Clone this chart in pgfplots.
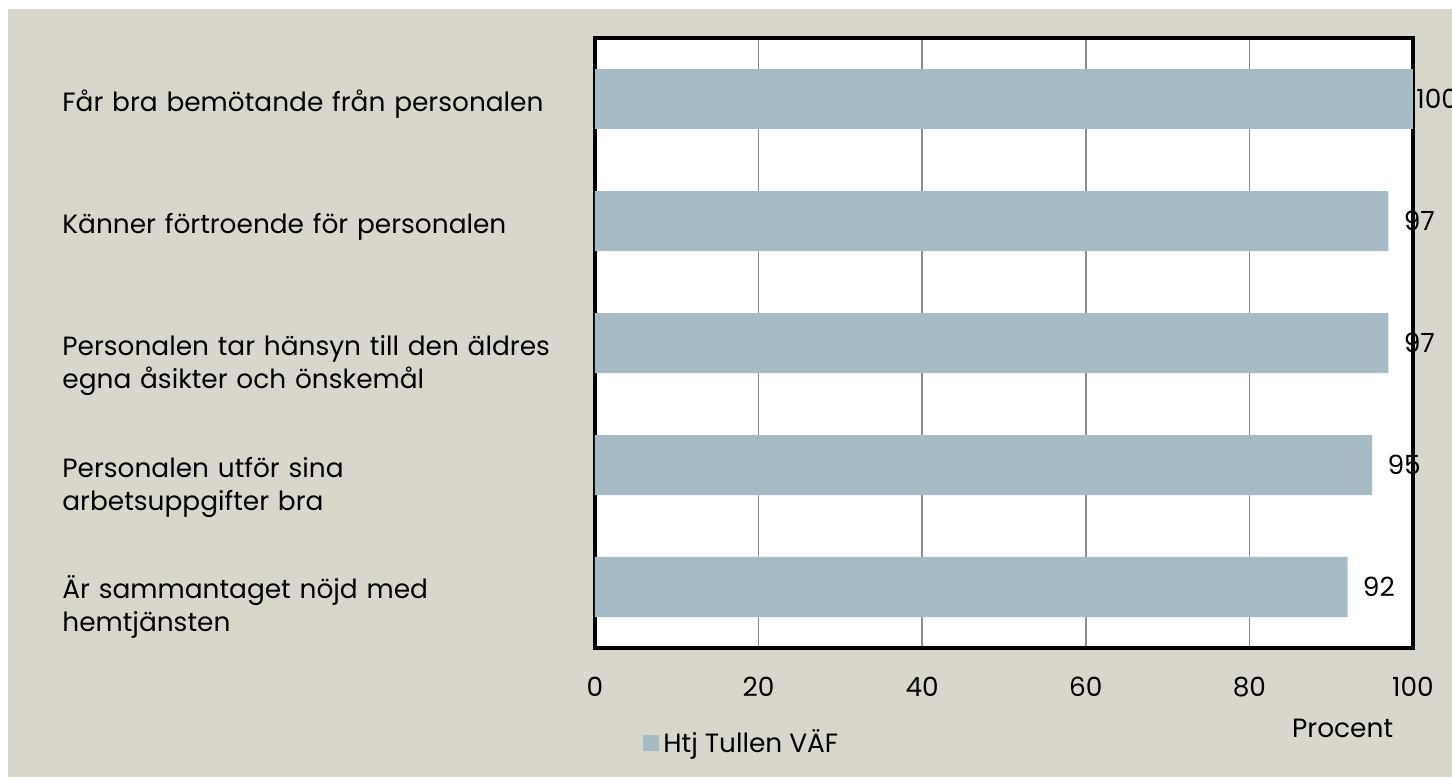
\documentclass[border=0pt]{standalone}
\usepackage{pgfplots}
\pgfplotsset{compat=1.18}
\usepackage{fontspec}
\setmainfont{Poppins}
\definecolor{bgc}{HTML}{D9D7CB}
\definecolor{barc}{HTML}{A6BBC6}
\definecolor{gridc}{HTML}{8C8C8C}
\newcommand{\lf}{\fontsize{13.2}{16.5}\selectfont}
\begin{document}
\lf
\begin{tikzpicture}
\useasboundingbox (0,0) rectangle (726pt,388.5pt);
\fill[bgc] (4pt,0) rectangle (726pt,384pt);
\begin{axis}[
  at={(297.5pt,64.5pt)}, anchor=south west,
  scale only axis, width=409pt, height=305pt,
  xbar, bar width=30pt, bar shift=0pt,
  xmin=0, xmax=100, ymin=0.5, ymax=5.5,
  xtick={0,20,40,60,80,100},
  ytick={1,2,3,4,5},
  yticklabels={{Är sammantaget nöjd med\\hemtjänsten},{Personalen utför sina\\arbetsuppgifter bra},{Personalen tar hänsyn till den äldres\\egna åsikter och önskemål},{Känner förtroende för personalen},{Får bra bemötande från personalen}},
  yticklabel style={text width=265pt, align=left, anchor=base west, xshift=-266.5pt, yshift=-6pt, inner sep=0pt, font=\lf},
  xticklabel style={anchor=base, yshift=-24.5pt, inner sep=0pt, font=\lf},
  /pgf/number format/assume math mode=true,
  major tick length=0pt,
  xmajorgrids, grid style={gridc, line width=0.8pt},
  axis line style={black, line width=2pt},
  axis background/.style={fill=white},
  clip=false,
  nodes near coords,
  nodes near coords style={anchor=west, xshift=7.5pt, inner sep=0pt, font=\lf, black},
  point meta=x,
  xlabel={Procent},
  xlabel style={at={(axis description cs:0.914,0)}, anchor=center, yshift=-40pt, font=\lf},
  legend style={at={(axis description cs:0,0)}, anchor=west, xshift=21pt, yshift=-47.5pt, draw=none, fill=none, font=\lf},
  legend image code/.code={\fill[barc] (0pt,-4pt) rectangle (8pt,4pt);},
]
\addplot[fill=barc, draw=none] coordinates {(92,1) (95,2) (97,3) (97,4)};
\addlegendentry{Htj Tullen VÄF}
\addplot[fill=barc, draw=none, forget plot, nodes near coords style={xshift=-6pt}] coordinates {(100,5)};
\end{axis}
\end{tikzpicture}
\end{document}
